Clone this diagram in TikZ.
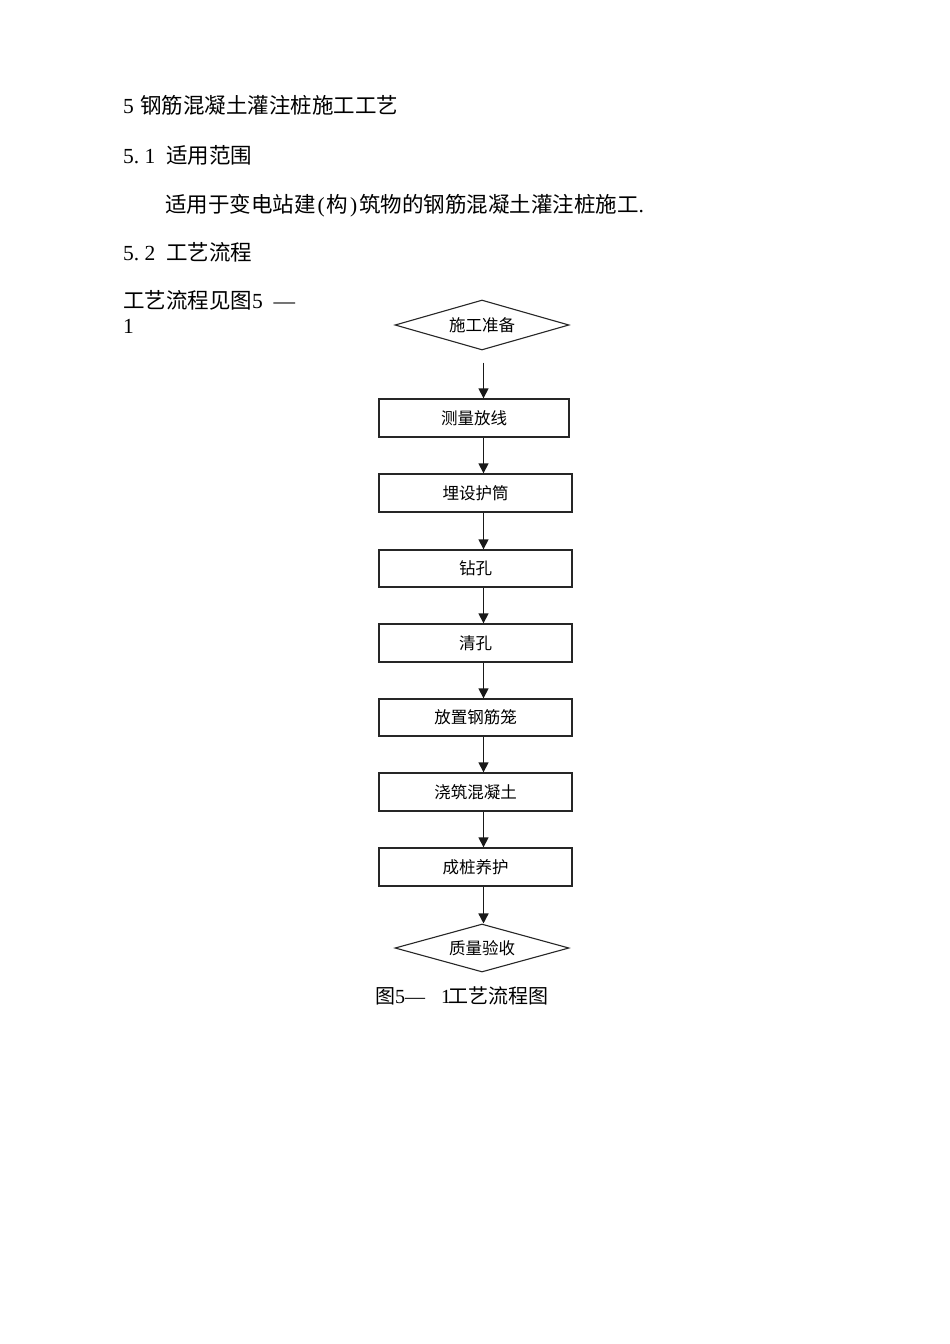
\documentclass[tikz,border=0pt]{standalone}
\usepackage{fontspec}
\setmainfont{Liberation Serif}
\newfontfamily\cjk{Noto Sans CJK SC}
\usetikzlibrary{shapes.geometric,arrows.meta}
\newcommand{\hwc}[1]{\makebox[10.7pt][l]{#1}}
\tikzset{
  body/.style={anchor=west, inner sep=0pt, font=\fontsize{21.5}{26}\selectfont},
  stepbox/.style={draw=black!85, line width=1.4pt, minimum width=193pt, minimum height=38pt, inner sep=0pt,
    font=\cjk\fontsize{16.5}{20}\selectfont},
  decide/.style={draw=black!85, line width=1.1pt, shape=diamond, shape aspect=3.5, inner sep=0pt,
    minimum width=174pt, minimum height=50pt, font=\cjk\fontsize{16.5}{20}\selectfont},
  arr/.style={draw=black!90, line width=1.5pt, -{Triangle[length=10pt,width=10pt]}},
}
\begin{document}
\begin{tikzpicture}[x=1pt,y=-1pt]
\useasboundingbox[fill=white] (0,0) rectangle (950,1344);
% body text
\node[body] (h1) at (123,105) {\makebox[17pt][l]{5}{\cjk 钢筋混凝土灌注桩施工工艺}};
\node[body] (h2) at (123,155) {\hwc{5}\hwc{.}\hwc{1}\hwc{ }{\cjk 适用范围}};
\node[body] (p1) at (165,206) {{\cjk 适用于变电站建}\makebox[11pt]{(}{\cjk 构}\makebox[11pt]{)}{\cjk 筑物的钢筋混凝土灌注桩施工}.};
\node[body] (h3) at (123,252) {\hwc{5}\hwc{.}\hwc{2}\hwc{ }{\cjk 工艺流程}};
\node[body] (p2) at (123,300) {{\cjk 工艺流程见图}\hwc{5}\hwc{ }—};
\node[body] (p3) at (123,326) {1};
% flowchart
\node[decide] (d1) at (482,325) {施工准备};
\node[stepbox, minimum width=190pt] (b1) at (474,418) {测量放线};
\node[stepbox] (b2) at (475.5,493) {埋设护筒};
\node[stepbox, minimum height=37pt] (b3) at (475.5,568.5) {钻孔};
\node[stepbox] (b4) at (475.5,643) {清孔};
\node[stepbox, minimum height=37pt] (b5) at (475.5,717.5) {放置钢筋笼};
\node[stepbox] (b6) at (475.5,792) {浇筑混凝土};
\node[stepbox] (b7) at (475.5,867) {成桩养护};
\node[decide, minimum height=48pt] (d2) at (482,948) {质量验收};
\coordinate (ax) at (483.5,0);
\draw[arr, shorten <=12pt] (d1.south -| ax) -- (b1.north -| ax);
\draw[arr] (b1.south -| ax) -- (b2.north -| ax);
\draw[arr] (b2.south -| ax) -- (b3.north -| ax);
\draw[arr] (b3.south -| ax) -- (b4.north -| ax);
\draw[arr] (b4.south -| ax) -- (b5.north -| ax);
\draw[arr] (b5.south -| ax) -- (b6.north -| ax);
\draw[arr] (b6.south -| ax) -- (b7.north -| ax);
\draw[arr] (b7.south -| ax) -- (d2.north -| ax);
% caption
\node[anchor=west, inner sep=0pt, font=\fontsize{20}{24}\selectfont] (cap) at (375,996)
  {{\cjk 图}\makebox[10pt][l]{5}\makebox[20pt]{—}\hspace{16pt}\makebox[7.5pt][l]{1}{\cjk 工艺流程图}};
\end{tikzpicture}
\end{document}
